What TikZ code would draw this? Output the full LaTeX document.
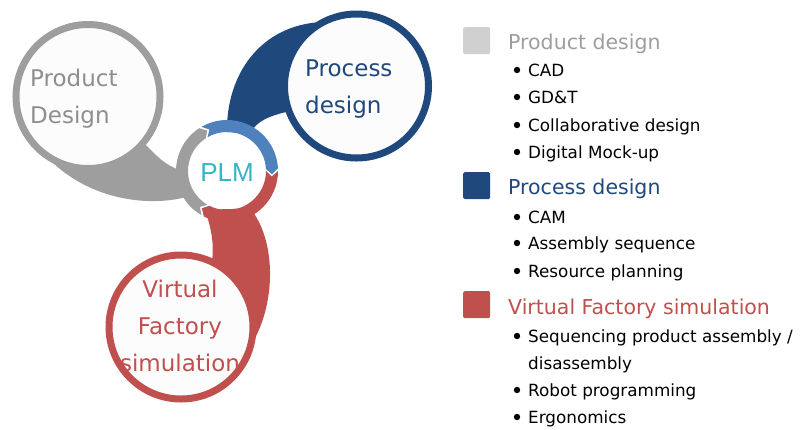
\documentclass[tikz,border=0pt]{standalone}
\usepackage{fontspec}
\setmainfont{DejaVu Sans}
\newfontfamily\plmfont{Liberation Sans}
\definecolor{cgray}{HTML}{9E9E9E}
\definecolor{cgraylight}{HTML}{D0D0D0}
\definecolor{cdblue}{HTML}{1F497D}
\definecolor{cblue}{HTML}{4F81BD}
\definecolor{cred}{HTML}{C0504D}
\definecolor{cteal}{HTML}{33B5CA}
\definecolor{cfill}{HTML}{FCFCFC}
\begin{document}
\begin{tikzpicture}[x=1pt,y=1pt,
  bigcircle/.style={circle,line width=7pt,fill=cfill,minimum size=144pt,inner sep=0pt},
  bigtext/.style={font=\fontsize{23}{37}\selectfont,inner sep=0pt},
  legtitle/.style={anchor=base west,inner sep=0pt,font=\fontsize{20.5}{24}\selectfont},
  legitem/.style={anchor=base west,inner sep=0pt,font=\fontsize{16.8}{20}\selectfont},
  legbox/.style={rounded corners=1.5pt,minimum size=27pt,inner sep=0pt,anchor=north west},
  bul/.style={fill=black}]
\useasboundingbox (0,0) rectangle (802,-429);
% tails
\fill[cgray] (148,-147) .. controls (160,-160) and (170,-168) .. (186,-172)
  -- (190,-196) .. controls (150,-208) and (90,-200) .. (50,-160) -- (88,-96) -- cycle;
\fill[cdblue] (227,-132) .. controls (226,-75) and (260,-25) .. (322,-22)
  -- (356,-86) -- (286,-112) .. controls (270,-116) and (258,-120) .. (250,-133) -- cycle;
\fill[cred] (205,-210) .. controls (212,-230) and (214,-245) .. (212,-262)
  -- (181,-327) -- (254,-340) .. controls (276,-300) and (276,-240) .. (250,-208) -- cycle;
% big circles
\node[bigcircle,draw=cgray] (pd) at (88,-96.5) {};
\node[bigcircle,draw=cdblue] (pr) at (356.5,-86) {};
\node[bigcircle,draw=cred] (vf) at (181,-327) {};
\node[bigtext,text=cgray!90!black,align=left,anchor=west] (pdt) at (30,-98.5) {Product\\Design};
\node[bigtext,text=cdblue,align=left,anchor=west] (prt) at (305,-89.5) {Process\\design};
\node[bigtext,text=cred,align=center] (vft) at (180,-326) {Virtual\\Factory\\simulation};
% ring
\begin{scope}[shift={(227,-171)}]
  \fill[cgray] (240:51) arc[start angle=240,end angle=123,radius=51] -- (116:45) -- (123:39)
     arc[start angle=123,end angle=240,radius=39] -- (233:45) -- cycle;
  \fill[cblue] (120:51) arc[start angle=120,end angle=3,radius=51] -- (-4:45) -- (3:39)
     arc[start angle=3,end angle=120,radius=39] -- (113:45) -- cycle;
  \fill[cred] (0:51) arc[start angle=0,end angle=-117,radius=51] -- (-124:45) -- (-117:39)
     arc[start angle=-117,end angle=0,radius=39] -- (-7:45) -- cycle;
\end{scope}
\node[circle,fill=white,minimum size=76pt,inner sep=0pt] (plm) at (227,-171) {};
\node[text=cteal,font=\plmfont\fontsize{26}{30}\selectfont,inner sep=0pt] (plmt) at (227,-173) {PLM};
% legend
\node[legbox,fill=cgraylight] (lb1) at (463,-27) {};
\node[legbox,fill=cdblue] (lb2) at (463,-172) {};
\node[legbox,fill=cred] (lb3) at (463,-291) {};
\node[legtitle,text=cgray] (lt1) at (508,-49.5) {Product design};
\node[legtitle,text=cdblue] (lt2) at (508,-194.5) {Process design};
\node[legtitle,text=cred] (lt3) at (508,-314.5) {Virtual Factory simulation};
\foreach \y/\t/\n in {76/CAD/a1,103/GD\&T/a2,131/Collaborative design/a3,158/Digital Mock-up/a4,
  223/CAM/b1,249/Assembly sequence/b2,277/Resource planning/b3,
  342/{Sequencing product assembly /}/c1,396/Robot programming/c3,423/Ergonomics/c4}{
  \fill[bul] (517,-\y+6) circle[radius=3.2];
  \node[legitem] (\n) at (528,-\y) {\t};
}
\node[legitem] (c2) at (528,-369) {disassembly};
\end{tikzpicture}
\end{document}
